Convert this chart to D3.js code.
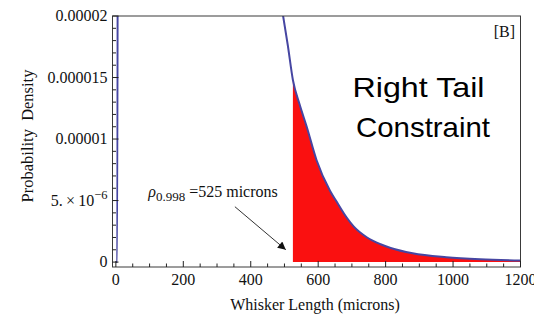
<!DOCTYPE html>
<html>
<head>
<meta charset="utf-8">
<script src="https://cdn.jsdelivr.net/npm/d3@7/dist/d3.min.js"></script>
<style>
  html, body { margin: 0; padding: 0; background: #fff; }
  svg { display: block; }
  .serif { font-family: "Liberation Serif", "DejaVu Serif", serif; fill: #111; }
  .sans { font-family: "Liberation Sans", Arial, sans-serif; fill: #000; }
</style>
</head>
<body>
<svg id="chart" width="534" height="320"></svg>
<script>
// Whisker length (microns) and probability density
const lengths = [0, 4, 7, 470, 496, 510, 525, 545, 566, 595, 635, 655, 685, 705, 745, 785, 815, 880, 980, 1080, 1200];
const densities = [0, 0, 6.0e-5, 2.4e-5, 2.0e-5, 1.76e-5, 1.48e-5, 1.28e-5, 1.10e-5, 8.3e-6, 5.8e-6, 4.9e-6, 3.6e-6, 2.9e-6, 2.0e-6, 1.45e-6, 1.15e-6, 7.2e-7, 4.0e-7, 2.3e-7, 1.3e-7];

// 99.8th percentile cut-off where the shaded tail begins
const cutoff = 525;

// Axis ticks
const xMajorTicks = [0, 200, 400, 600, 800, 1000, 1200];
const xMinorTicks = d3.range(50, 1200, 50).filter(v => v % 200 !== 0);
const yMajorTicks = [0, 5e-6, 1e-5, 1.5e-5, 2e-5];
const yMajorLabels = ["0", "5.\u2009\u00D7\u200910", "0.00001", "0.000015", "0.00002"];
const yMinorTicks = d3.range(1e-6, 2e-5, 1e-6).filter((v, i) => (i + 1) % 5 !== 0);

const svg = d3.select("#chart");
const frame = { left: 112.5, right: 520.5, top: 16, bottom: 267 };

const x = d3.scaleLinear().domain([-10, 1200]).range([frame.left, frame.right]);
const y = d3.scaleLinear().domain([-4e-7, 2e-5]).range([frame.bottom, frame.top]);

const points = lengths.map((v, i) => ({ len: v, dens: densities[i] }));

const defs = svg.append("defs");
defs.append("clipPath").attr("id", "plotClip")
  .append("rect")
  .attr("x", frame.left).attr("y", frame.top)
  .attr("width", frame.right - frame.left).attr("height", frame.bottom - frame.top);

defs.append("marker")
  .attr("id", "arrowHead").attr("viewBox", "0 0 10 10")
  .attr("refX", 10).attr("refY", 5)
  .attr("markerWidth", 12).attr("markerHeight", 8)
  .attr("markerUnits", "userSpaceOnUse")
  .attr("orient", "auto")
  .append("path").attr("d", "M0,0 L10,5 L0,10 Z").attr("fill", "#111");

const plot = svg.append("g").attr("clip-path", "url(#plotClip)");

// Shaded right tail beyond the cut-off
const tail = points.filter(p => p.len >= cutoff);
plot.append("path")
  .datum(tail)
  .attr("fill", "#fa1010")
  .attr("d", d3.area()
    .x(d => x(d.len))
    .y0(y(0))
    .y1(d => y(d.dens))
    .curve(d3.curveMonotoneX));

// Density curve
plot.append("path")
  .datum(points)
  .attr("fill", "none")
  .attr("stroke", "#4646a2")
  .attr("stroke-width", 2)
  .attr("d", d3.line()
    .x(d => x(d.len))
    .y(d => y(d.dens))
    .curve(d3.curveMonotoneX));

// Frame
svg.append("rect")
  .attr("x", frame.left).attr("y", frame.top)
  .attr("width", frame.right - frame.left).attr("height", frame.bottom - frame.top)
  .attr("fill", "none").attr("stroke", "#3a3a3a").attr("stroke-width", 1);

// Bottom ticks (pointing inward)
const tickG = svg.append("g").attr("stroke", "#222").attr("stroke-width", 1);
xMajorTicks.forEach(v => tickG.append("line")
  .attr("x1", x(v)).attr("x2", x(v)).attr("y1", frame.bottom).attr("y2", frame.bottom - 6));
xMinorTicks.forEach(v => tickG.append("line")
  .attr("x1", x(v)).attr("x2", x(v)).attr("y1", frame.bottom).attr("y2", frame.bottom - 3.5));
// Left ticks
yMajorTicks.forEach(v => tickG.append("line")
  .attr("y1", y(v)).attr("y2", y(v)).attr("x1", frame.left).attr("x2", frame.left + 6));
yMinorTicks.forEach(v => tickG.append("line")
  .attr("y1", y(v)).attr("y2", y(v)).attr("x1", frame.left).attr("x2", frame.left + 3.5));

// X tick labels
svg.append("g").selectAll("text").data(xMajorTicks).join("text")
  .attr("class", "serif")
  .attr("x", d => x(d)).attr("y", 285)
  .attr("text-anchor", "middle")
  .attr("font-size", 16)
  .text(d => d);

// Y tick labels
const yLab = svg.append("g").selectAll("text").data(yMajorTicks).join("text")
  .attr("class", "serif")
  .attr("x", frame.left - 5).attr("y", d => y(d) + 5)
  .attr("text-anchor", "end")
  .attr("font-size", 16);
yLab.each(function(d, i) {
  const t = d3.select(this);
  if (d === 5e-6) {
    t.append("tspan").text(yMajorLabels[i]);
    t.append("tspan").attr("dy", -7).attr("font-size", 12.5).text("\u22126");
  } else {
    t.text(yMajorLabels[i]);
  }
});

// Axis titles
svg.append("text").attr("class", "serif")
  .attr("x", 315).attr("y", 310)
  .attr("text-anchor", "middle").attr("font-size", 16)
  .text("Whisker Length (microns)");

svg.append("text").attr("class", "serif")
  .attr("transform", "translate(33,136) rotate(-90)")
  .attr("text-anchor", "middle").attr("font-size", 16.5)
  .style("white-space", "pre")
  .text("Probability  Density");

// Panel tag
svg.append("text").attr("class", "serif")
  .attr("x", 515).attr("y", 37)
  .attr("text-anchor", "end").attr("font-size", 16)
  .text("[B]");

// Tail label
const tl = svg.append("g").attr("class", "sans").attr("font-size", 28);
tl.append("text").attr("x", 352.5).attr("y", 97)
  .attr("textLength", 132).attr("lengthAdjust", "spacingAndGlyphs")
  .text("Right Tail");
tl.append("text").attr("x", 356).attr("y", 137)
  .attr("textLength", 134).attr("lengthAdjust", "spacingAndGlyphs")
  .text("Constraint");

// Cut-off annotation
const ann = svg.append("text").attr("class", "serif")
  .attr("x", x(96)).attr("y", y(5.25e-6)).attr("font-size", 16);
ann.append("tspan").attr("font-style", "italic").text("\u03C1");
ann.append("tspan").attr("dy", 4).attr("font-size", 13).text("0.998");
ann.append("tspan").attr("dy", -4).text(" =525 microns");

svg.append("line")
  .attr("x1", x(353)).attr("y1", y(4.5e-6))
  .attr("x2", x(504)).attr("y2", y(1.0e-6))
  .attr("stroke", "#333").attr("stroke-width", 1)
  .attr("marker-end", "url(#arrowHead)");
</script>
</body>
</html>
